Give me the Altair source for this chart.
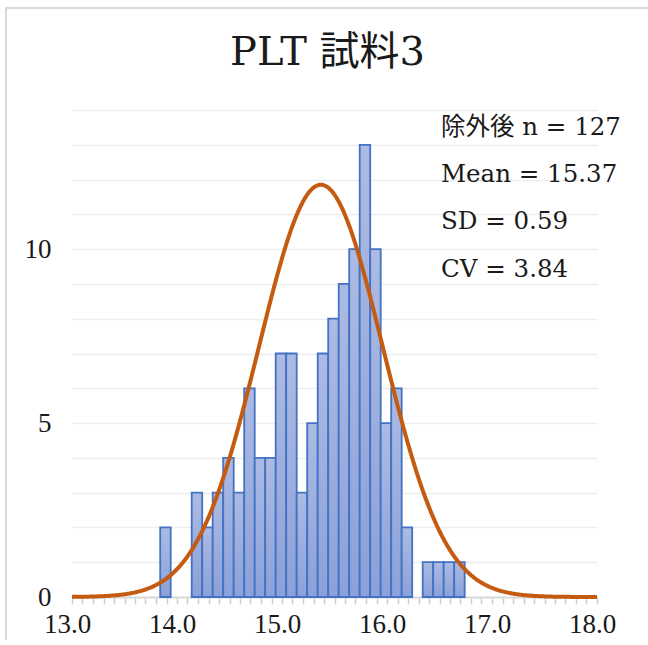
import altair as alt
import numpy as np
import pandas as pd

# Histogram bins (left edges, width 0.1) and counts
bin_left = [13.84, 14.14, 14.24, 14.34, 14.44, 14.54, 14.64, 14.74, 14.84,
            14.94, 15.04, 15.14, 15.24, 15.34, 15.44, 15.54, 15.64, 15.74,
            15.84, 15.94, 16.04, 16.14, 16.34, 16.44, 16.54, 16.64]
counts = [2, 3, 2, 3, 4, 3, 6, 4, 4,
          7, 7, 3, 5, 7, 8, 9, 10, 13,
          10, 5, 6, 2, 1, 1, 1, 1]
bin_width = 0.1

# Summary statistics after exclusion
n_val = 127
mean_val = 15.37
sd_val = 0.59
cv_val = 3.84
curve_peak = 11.85

title_text = "PLT 試料3"
stats_lines = [
    f"除外後 n = {n_val}",
    f"Mean = {mean_val:.2f}",
    f"SD = {sd_val:.2f}",
    f"CV = {cv_val:.2f}",
]

x_domain = [13.0, 18.0]
y_domain = [0, 14]
x_tick_values = [round(13.0 + 0.1 * i, 1) for i in range(51)]
y_tick_values = list(range(15))

SERIF = "DejaVu Serif, Noto Sans CJK JP"
NUM_FONT = "Liberation Serif"
TEXT_COLOR = "#1a1a1a"

hist = pd.DataFrame({
    "left": bin_left,
    "right": [round(b + bin_width, 2) for b in bin_left],
    "count": counts,
    "base": [0] * len(counts),
})

# Fitted normal curve from the mean and SD
xs = np.linspace(x_domain[0], x_domain[1], 501)
ys = curve_peak * np.exp(-0.5 * ((xs - mean_val) / sd_val) ** 2)
curve = pd.DataFrame({"x": xs, "y": ys})

x_scale = alt.Scale(domain=x_domain, nice=False, zero=False)
y_scale = alt.Scale(domain=y_domain, nice=False)

x_axis = alt.Axis(
    values=x_tick_values,
    labelExpr="abs(datum.value - round(datum.value)) < 0.001 ? format(datum.value, '.1f') : ''",
    title=None,
    grid=False,
    tickSize=7,
    tickWidth=1.5,
    tickColor="#D0D0D0",
    domainColor="#D9D9D9",
    domainWidth=2,
    labelFont=NUM_FONT,
    labelFontSize=27,
    labelColor=TEXT_COLOR,
    labelPadding=20,
    labelOffset=-5,
    labelBaseline="middle",
    labelOverlap=False,
    labelFlush=False,
)

y_axis = alt.Axis(
    values=y_tick_values,
    labelExpr="datum.value % 5 == 0 ? datum.label : ''",
    title=None,
    grid=True,
    gridColor="#EDEDED",
    gridWidth=1.5,
    ticks=False,
    tickSize=0,
    domain=False,
    labelFont=NUM_FONT,
    labelFontSize=27,
    labelColor=TEXT_COLOR,
    labelPadding=21,
    labelOverlap=False,
)

bar_fill = alt.Gradient(
    gradient="linear",
    stops=[
        alt.GradientStop(color="#ACBBE3", offset=0),
        alt.GradientStop(color="#8BA1D8", offset=1),
    ],
    x1=0, x2=0, y1=0, y2=1,
)

bars = alt.Chart(hist).mark_rect(
    fill=bar_fill, stroke="#4472C4", strokeWidth=1.8
).encode(
    x=alt.X("left:Q", scale=x_scale, axis=x_axis),
    x2="right:Q",
    y=alt.Y("count:Q", scale=y_scale, axis=y_axis),
    y2="base:Q",
)

line = alt.Chart(curve).mark_line(
    color="#C55A11", strokeWidth=4
).encode(
    x=alt.X("x:Q", scale=x_scale, axis=x_axis),
    y=alt.Y("y:Q", scale=y_scale, axis=y_axis),
)

stats = alt.Chart(pd.DataFrame({"t": ["\n".join(stats_lines)]})).mark_text(
    align="left", baseline="alphabetic", lineBreak="\n", lineHeight=47.2,
    font=SERIF, fontSize=24.5, color=TEXT_COLOR,
).encode(
    x=alt.value(369), y=alt.value(25), text="t:N"
)

title = alt.Chart(pd.DataFrame({"t": [title_text]})).mark_text(
    align="center", baseline="alphabetic",
    font=SERIF, fontSize=40, color=TEXT_COLOR,
).encode(
    x=alt.value(255.5), y=alt.value(-45), text="t:N"
)

# Chart-area border along the top and left edges, as thin filled strips
frame_top = alt.Chart(pd.DataFrame({"k": [0]})).mark_rect(
    color="#D9D9D9", strokeWidth=0
).encode(
    x=alt.value(-67), x2=alt.value(576), y=alt.value(-103), y2=alt.value(-101)
)
frame_left = alt.Chart(pd.DataFrame({"k": [0]})).mark_rect(
    color="#D9D9D9", strokeWidth=0
).encode(
    x=alt.value(-67), x2=alt.value(-65), y=alt.value(-103), y2=alt.value(535)
)

chart = alt.layer(frame_top, frame_left, bars, line, stats, title).properties(
    width=525,
    height=487,
    autosize=alt.AutoSizeParams(type="none"),
    padding={"left": 72, "top": 110, "right": 51, "bottom": 43},
    background="white",
).configure_view(strokeWidth=0)

chart.save("out.html", embed_options={"renderer": "svg", "actions": False})
